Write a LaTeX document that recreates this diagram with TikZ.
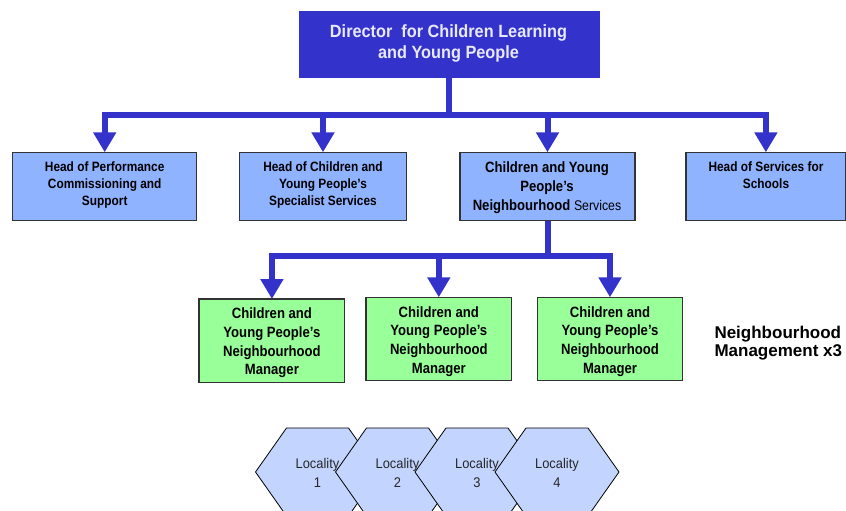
\documentclass[tikz,border=0pt]{standalone}
\usepackage{fontspec}
\setmainfont{Liberation Sans}
\newfontfamily\boxfont[FakeStretch=0.88]{Liberation Sans}
\newfontfamily\dirfont[FakeStretch=0.92]{Liberation Sans}
\newfontfamily\locfont[FakeStretch=0.92]{Liberation Sans}
\usetikzlibrary{arrows.meta}
\definecolor{dirblue}{HTML}{3333CC}
\definecolor{dirtext}{HTML}{E8E8FF}
\definecolor{lbluefill}{HTML}{8FB3FF}
\definecolor{greenfill}{HTML}{99FF99}
\definecolor{hexfill}{HTML}{C3D5FF}
\definecolor{boxline}{HTML}{333333}
\definecolor{loctext}{HTML}{262626}
\begin{document}
\begin{tikzpicture}[x=1pt,y=-1pt,
  dirbox/.style={fill=dirblue, draw=dirblue, line width=0.8pt, inner sep=0pt, outer sep=0pt},
  headbox/.style={fill=lbluefill, draw=boxline, line width=1.2pt, inner sep=0pt, outer sep=0pt},
  mgrbox/.style={fill=greenfill, draw=boxline, line width=1.2pt, inner sep=0pt, outer sep=0pt},
  hexa/.style={fill=hexfill, draw=black, line width=0.8pt, line join=miter},
  conn/.style={draw=dirblue, line width=6pt, line join=miter, -{Triangle[width=22pt,length=20pt]}},
  txt/.style={inner sep=0pt, outer sep=0pt, align=center},
  dirtxt/.style={txt, text=dirtext, font=\dirfont\bfseries\fontsize{17.7}{21.6}\selectfont},
  headtxt/.style={txt, text=black, font=\boxfont\bfseries\fontsize{13.5}{17}\selectfont},
  mgrtxt/.style={txt, text=black, font=\boxfont\bfseries\fontsize{14.9}{18.7}\selectfont},
  loctxt/.style={txt, text=loctext, font=\locfont\fontsize{14}{18.4}\selectfont},
  lbl/.style={inner sep=0pt, outer sep=0pt, align=left, text=black, font=\bfseries\fontsize{17}{18.5}\selectfont}
]
\useasboundingbox (0,0) rectangle (846,511);
\clip (0,0) rectangle (846,511);

% director
\node[dirbox, minimum width=299.7pt, minimum height=66pt] (dir) at (449.2,44.7) {};
\node[dirtxt] (dirt) at (448.5,43.5) {Director\ \ for Children Learning\\and Young People};

% heads
\node[headbox, minimum width=184pt, minimum height=68.4pt] (b1) at (104.7,186.5) {};
\node[headbox, minimum width=167.4pt, minimum height=68.4pt] (b2) at (323,186.5) {};
\node[headbox, minimum width=175pt, minimum height=68.4pt] (b3) at (547.5,186.5) {};
\node[headbox, minimum width=159.7pt, minimum height=68.4pt] (b4) at (765.9,186.5) {};

\node[headtxt] (b1t) at (104.7,185) {Head of Performance\\Commissioning and\\Support};
\node[headtxt] (b2t) at (323,185) {Head of Children and\\Young People{’}s\\Specialist Services};
\node[txt, text=black, font=\boxfont\bfseries\fontsize{14.9}{18.7}\selectfont] (b3t) at (547,187.5)
  {Children and Young\\People{’}s\\Neighbourhood {\mdseries\fontsize{14}{18.7}\selectfont Services}};
\node[headtxt] (b4t) at (766,175) {Head of Services for\\Schools};

% connectors level 1
\coordinate (bar1) at (449.2,114.7);
\draw[conn] (dir.south) |- (b1.north |- bar1) -- (b1.north);
\draw[conn] (dir.south) |- (b2.north |- bar1) -- (b2.north);
\draw[conn] (dir.south) |- (b3.north |- bar1) -- (b3.north);
\draw[conn] (dir.south) |- (b4.north |- bar1) -- (b4.north);

% managers
\node[mgrbox, minimum width=145.7pt, minimum height=83.7pt] (mA) at (271.9,340.85) {};
\node[mgrbox, minimum width=145.7pt, minimum height=83.4pt] (mB) at (438.8,339) {};
\node[mgrbox, minimum width=145.4pt, minimum height=83.4pt] (mC) at (610,339) {};

\node[mgrtxt] (mAt) at (271.9,343) {Children and\\Young People{’}s\\Neighbourhood\\Manager};
\node[mgrtxt] (mBt) at (438.8,341.3) {Children and\\Young People{’}s\\Neighbourhood\\Manager};
\node[mgrtxt] (mCt) at (610,341.3) {Children and\\Young People{’}s\\Neighbourhood\\Manager};

% connectors level 2
\coordinate (bar2) at (547.5,255.7);
\draw[conn] (b3.south) |- (mA.north |- bar2) -- (mA.north);
\draw[conn] (b3.south) |- (mB.north |- bar2) -- (mB.north);
\draw[conn] (b3.south) |- (mC.north |- bar2) -- (mC.north);

% label
\node[lbl, anchor=west] (nm) at (714.5,343) {Neighbourhood\\Management x3};

% localities
\foreach \cx in {317.5,397.5,477,557} {
  \draw[hexa] (\cx-62,472) -- (\cx-31,428) -- (\cx+31,428) -- (\cx+62,472) -- (\cx+31,516) -- (\cx-31,516) -- cycle;
}
\node[loctxt] (loc1) at (317.5,473) {Locality\\1};
\node[loctxt] (loc2) at (397.5,473) {Locality\\2};
\node[loctxt] (loc3) at (477,473) {Locality\\3};
\node[loctxt] (loc4) at (557,473) {Locality\\4};
\end{tikzpicture}
\end{document}
